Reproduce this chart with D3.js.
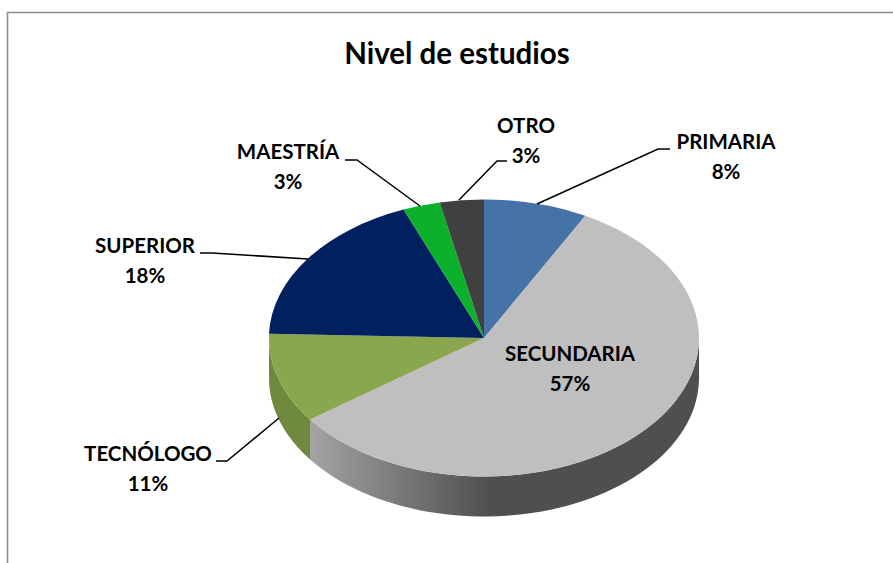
<!DOCTYPE html>
<html><head><meta charset="utf-8">
<script src="https://cdnjs.cloudflare.com/ajax/libs/d3/7.8.5/d3.min.js"></script>
<style>html,body{margin:0;padding:0;background:#fff}svg{display:block}text{font-family:Lato,Carlito,sans-serif;font-weight:700;fill:#000}</style>
</head><body><svg id="c" width="893" height="563"></svg>
<script>
const categories = ["PRIMARIA","SECUNDARIA","TECNÓLOGO","SUPERIOR","MAESTRÍA","OTRO"];
const values = [7.8,57.2,10.5,18.4,2.8,3.3];
const labels = ["8%","57%","11%","18%","3%","3%"];
const topColors = ["#4573a7","#bfbfbf","#8aa64f","#002060","#0db02b","#404040"];
const sideColors = ["#35597f","url(#g)","#6f8a3e","#001540","#0a8a22","#303030"];
const labelX = [726,570,148,145,288,526];
const labelY = [150,362,462,254,160,134];
const leaders = [
  [[670,149],[658,149],[537,204]],
  null,
  [[216,461],[227,461],[279,418]],
  [[200,253],[212,253],[308,259]],
  [[345,160],[357,160],[420,206]],
  [[507,161],[497,161],[459,200]]
];
const cx=484, cy=338, rx=215, ry=138.5, depth=40;
const svg=d3.select("#c");
const defs=svg.append("defs");
const g=defs.append("linearGradient").attr("id","g").attr("gradientUnits","userSpaceOnUse")
  .attr("x1",311).attr("x2",490).attr("y1",0).attr("y2",0);
g.append("stop").attr("offset",0).attr("stop-color","#a3a3a3");
g.append("stop").attr("offset",1).attr("stop-color","#4f4f4f");

svg.append("path").attr("d","M7.5,563V12.5H893").attr("fill","none").attr("stroke","#8c8c8c").attr("stroke-width",1.6);
svg.append("text").attr("x",457).attr("y",64).attr("text-anchor","middle").attr("font-size",29.5).text("Nivel de estudios");

const pie=d3.pie().sort(null).value(d=>d);
const arcs=pie(values);
const sx=d3.scaleLinear().domain([-1,1]).range([cx-rx,cx+rx]);
const sy=d3.scaleLinear().domain([-1,1]).range([cy-ry,cy+ry]);
const pt=(a,dz=0)=>[sx(Math.sin(a)),sy(-Math.cos(a))+dz];
const lineG=d3.line();
// side walls: only the front half of the ellipse (angles PI/2 .. 3PI/2)
const layer=svg.append("g");
arcs.forEach((d,i)=>{
  const a0=Math.max(d.startAngle,Math.PI/2), a1=Math.min(d.endAngle,3*Math.PI/2);
  if(a1<=a0) return;
  const ang=d3.range(0,61).map(k=>a0+(a1-a0)*k/60);
  const pts=ang.map(a=>pt(a)).concat(ang.slice().reverse().map(a=>pt(a,depth)));
  layer.append("path").attr("d",lineG(pts)+"Z").attr("fill",sideColors[i]);
});
// top faces
const arc=d3.arc().innerRadius(0).outerRadius(1);
const faces=svg.append("g").attr("transform",`translate(${cx},${cy}) scale(${rx},${ry})`);
faces.selectAll("path").data(arcs).join("path").attr("d",arc).attr("fill",(d,i)=>topColors[i]);
// leaders
leaders.forEach(l=>{ if(l) svg.append("path").attr("d",lineG(l)).attr("fill","none").attr("stroke","#000").attr("stroke-width",1.5); });
// labels
categories.forEach((c,i)=>{
  svg.append("text").attr("x",labelX[i]).attr("y",labelY[i]-1).attr("text-anchor","middle").attr("font-size",20.5).text(c);
  svg.append("text").attr("x",labelX[i]).attr("y",labelY[i]+29).attr("text-anchor","middle").attr("font-size",20.5).text(labels[i]);
});
</script></body></html>
